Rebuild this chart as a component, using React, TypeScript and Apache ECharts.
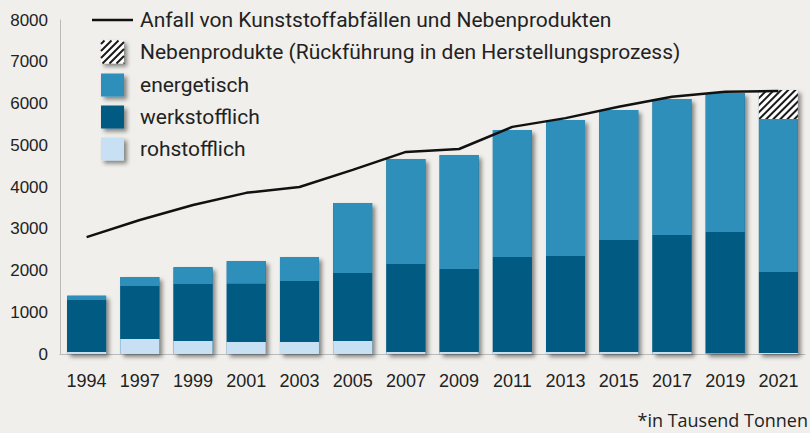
import React, { useEffect, useRef } from "react";
import * as echarts from "echarts";

const years = ["1994", "1997", "1999", "2001", "2003", "2005", "2007", "2009", "2011", "2013", "2015", "2017", "2019", "2021"];
const rohstofflich = [50, 360, 310, 290, 290, 310, 50, 50, 50, 50, 50, 50, 20, 25];
const werkstofflich = [1245, 1270, 1365, 1390, 1460, 1630, 2105, 1985, 2275, 2295, 2680, 2800, 2900, 1940];
const energetisch = [100, 215, 405, 550, 575, 1675, 2515, 2730, 3040, 3260, 3115, 3260, 3330, 3665];
const nebenprodukte = [0, 0, 0, 0, 0, 0, 0, 0, 0, 0, 0, 0, 0, 695];
const anfall = [2800, 3210, 3570, 3860, 4000, 4410, 4840, 4910, 5440, 5650, 5920, 6160, 6280, 6300];

const legendLabels = [
  "Anfall von Kunststoffabfällen und Nebenprodukten",
  "Nebenprodukte (Rückführung in den Herstellungsprozess)",
  "energetisch",
  "werkstofflich",
  "rohstofflich",
];

const C_ENERG = "#2f8fbb";
const C_WERK = "#005a82";
const C_ROH = "#c8e0f4";
const BG = "#f0efeb";

export default function App() {
  const ref = useRef<HTMLDivElement>(null);
  useEffect(() => {
    if (!ref.current) return;
    const chart = echarts.init(ref.current, null, { renderer: "svg" });
    const totals = years.map((_, i) => rohstofflich[i] + werkstofflich[i] + energetisch[i] + nebenprodukte[i]);

    const rows = [20, 52, 85, 117, 149];
    const shadow = { shadowBlur: 4, shadowOffsetX: 3, shadowOffsetY: 3, shadowColor: "rgba(0,0,0,0.45)" };
    const graphics: any[] = [];
    graphics.push({ type: "line", shape: { x1: 92, y1: rows[0], x2: 133, y2: rows[0] }, style: { stroke: "#111", lineWidth: 2.5 } });
    const sq = (y: number, fill: string) => ({ type: "rect", shape: { x: 101, y: y - 11.5, width: 23, height: 23 }, style: { fill, ...shadow } });
    graphics.push(sq(rows[1], "#fff"));
    const x0 = 101, y0 = rows[1] - 11.5, s = 23;
    for (let c = 3.5; c < 2 * s; c += 7) {
      const ax = Math.max(0, c - s), ay = Math.min(s, c);
      const bx = Math.min(s, c), by = Math.max(0, c - s);
      graphics.push({ type: "line", shape: { x1: x0 + ax, y1: y0 + ay, x2: x0 + bx, y2: y0 + by }, style: { stroke: "#1a1a1a", lineWidth: 2 } });
    }
    graphics.push(sq(rows[2], C_ENERG));
    graphics.push(sq(rows[3], C_WERK));
    graphics.push(sq(rows[4], C_ROH));
    legendLabels.forEach((t, i) => {
      graphics.push({ type: "text", x: 140, y: rows[i], style: { text: t, fontFamily: "Roboto", fontSize: 21, fill: "#222", verticalAlign: "middle", align: "left" } });
    });
    graphics.push({ type: "text", right: 2, top: 411, style: { text: "*in Tausend Tonnen", fontFamily: "Open Sans", fontSize: 18, fill: "#222" } });

    const barW = 39;
    chart.setOption({
      animation: false,
      backgroundColor: BG,
      grid: { left: 60, right: 5, top: 20, bottom: 79 },
      xAxis: {
        type: "category",
        data: years,
        axisLine: { lineStyle: { color: "#bbb", width: 1 } },
        axisTick: { show: false },
        axisLabel: { color: "#222", fontFamily: "Liberation Sans", fontSize: 18, margin: 18 },
      },
      yAxis: {
        type: "value",
        min: 0,
        max: 8000,
        interval: 1000,
        splitLine: { show: false },
        axisLine: { show: true, lineStyle: { color: "#bbb", width: 1 } },
        axisTick: { show: false },
        axisLabel: { color: "#222", fontFamily: "Liberation Sans", fontSize: 17, margin: 12, formatter: (v: number) => String(v) },
      },
      graphic: graphics,
      series: [
        {
          name: "shadow",
          type: "bar",
          data: totals,
          barWidth: barW,
          barGap: "-100%",
          z: 1,
          itemStyle: { color: C_WERK, ...shadow },
          silent: true,
        },
        { name: "rohstofflich", type: "bar", stack: "a", data: rohstofflich, barWidth: barW, z: 2, itemStyle: { color: C_ROH } },
        { name: "werkstofflich", type: "bar", stack: "a", data: werkstofflich, barWidth: barW, z: 2, itemStyle: { color: C_WERK } },
        { name: "energetisch", type: "bar", stack: "a", data: energetisch, barWidth: barW, z: 2, itemStyle: { color: C_ENERG } },
        {
          name: "Nebenprodukte",
          type: "bar",
          stack: "a",
          data: nebenprodukte,
          barWidth: barW,
          z: 2,
          itemStyle: {
            color: "#fff",
            decal: { symbol: "rect", symbolSize: 1, dashArrayX: [1, 0], dashArrayY: [2, 3], rotation: -Math.PI / 4, color: "#1a1a1a" },
          },
        },
        {
          name: "Anfall",
          type: "line",
          data: anfall,
          symbol: "none",
          z: 5,
          lineStyle: { color: "#111", width: 2.5 },
        },
      ],
    });
    return () => chart.dispose();
  }, []);
  return <div ref={ref} style={{ position: "fixed", left: 0, top: 0, width: 810, height: 433 }} />;
}
